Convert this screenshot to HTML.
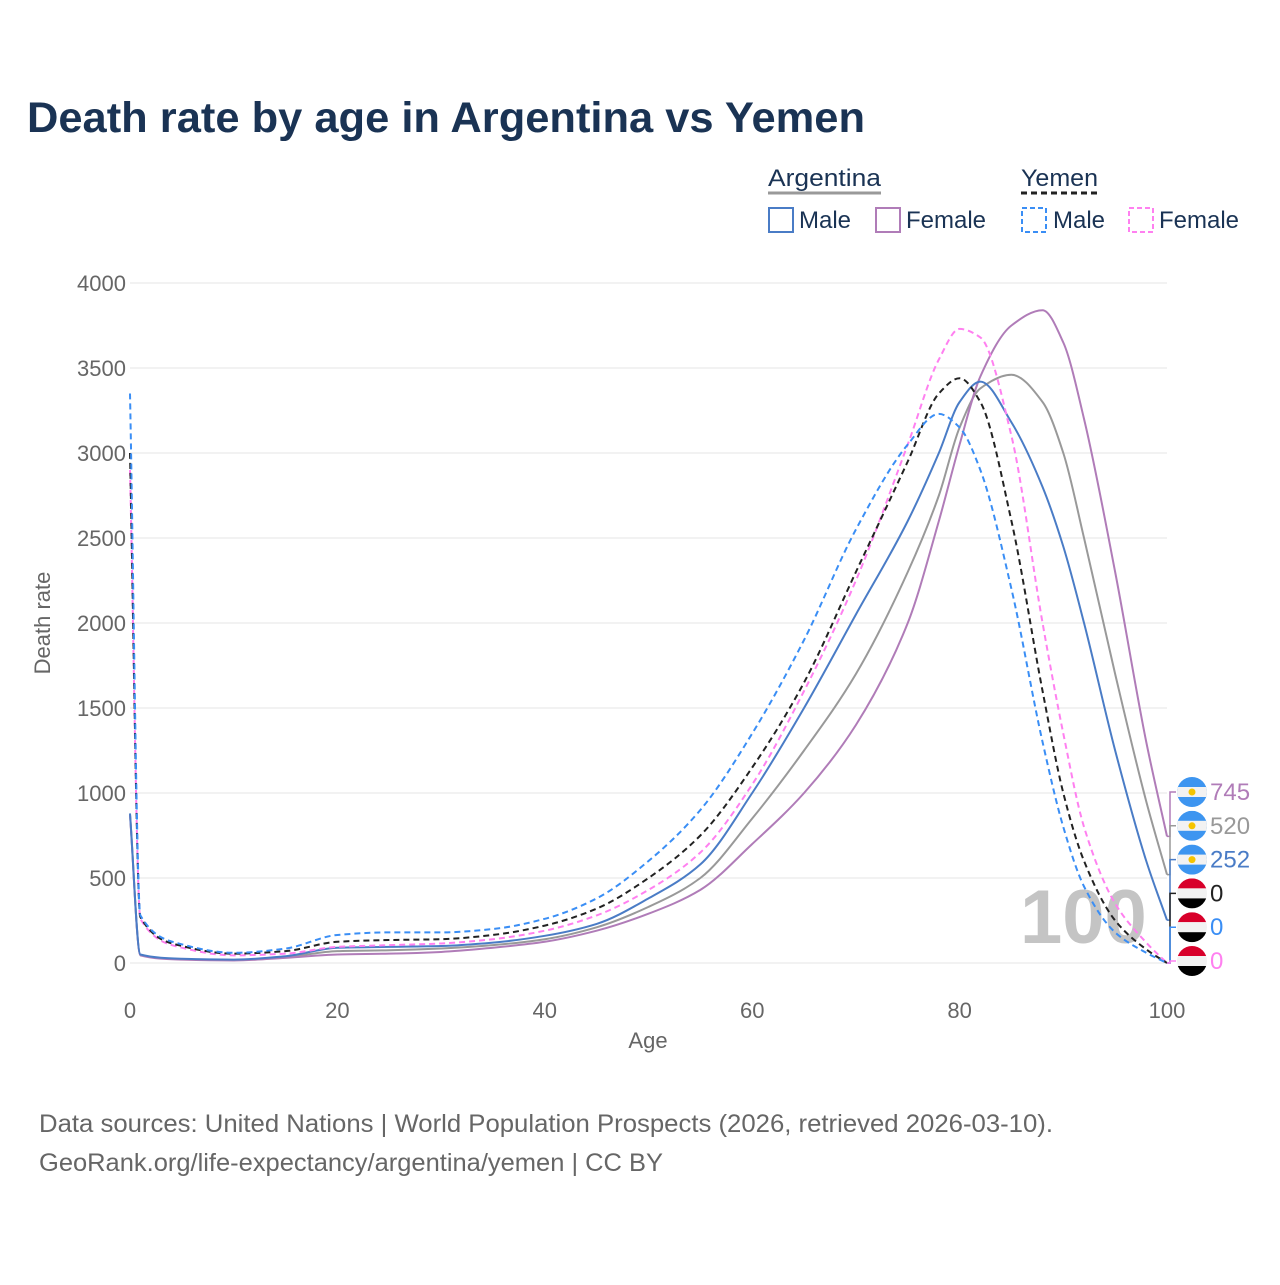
<!DOCTYPE html>
<html><head><meta charset="utf-8">
<style>
body{margin:0;background:#fff;font-family:"Liberation Sans",sans-serif}
svg text{font-family:"Liberation Sans",sans-serif}
</style></head><body>
<svg id="c" width="1280" height="1280" viewBox="0 0 1280 1280">
<text x="27" y="132" font-size="43" font-weight="bold" fill="#1a3354" textLength="838" lengthAdjust="spacingAndGlyphs">Death rate by age in Argentina vs Yemen</text>
<g>
<text x="768" y="186" font-size="24" fill="#1a3354" textLength="113" lengthAdjust="spacingAndGlyphs">Argentina</text>
<line x1="768" y1="193" x2="881" y2="193" stroke="#999" stroke-width="3"/>
<text x="1021" y="186" font-size="24" fill="#1a3354" textLength="77" lengthAdjust="spacingAndGlyphs">Yemen</text>
<line x1="1021" y1="193" x2="1098" y2="193" stroke="#222" stroke-width="3" stroke-dasharray="6,4"/>
<g><rect x="769" y="208" width="24" height="24" fill="none" stroke="#4a7cc6" stroke-width="2"/><text x="799" y="228" font-size="24" fill="#1a3354">Male</text></g>
<g><rect x="876" y="208" width="24" height="24" fill="none" stroke="#b07cb8" stroke-width="2"/><text x="906" y="228" font-size="24" fill="#1a3354">Female</text></g>
<g><rect x="1022" y="208" width="24" height="24" fill="none" stroke="#3a8ef5" stroke-width="2" stroke-dasharray="5,3"/><text x="1053" y="228" font-size="24" fill="#1a3354">Male</text></g>
<g><rect x="1129" y="208" width="24" height="24" fill="none" stroke="#ff80f0" stroke-width="2" stroke-dasharray="5,3"/><text x="1159" y="228" font-size="24" fill="#1a3354">Female</text></g>
</g>
<g id="grid"></g>
<text x="1020" y="943" font-size="76" font-weight="bold" fill="#c4c4c4">100</text>
<g id="series"></g>
<g id="endlabels"></g>
<text x="648" y="1048" font-size="22" fill="#666" text-anchor="middle">Age</text>
<text transform="translate(50,623) rotate(-90)" font-size="22" fill="#666" text-anchor="middle">Death rate</text>
<text x="39" y="1132" font-size="25" fill="#666" textLength="1014" lengthAdjust="spacingAndGlyphs">Data sources: United Nations | World Population Prospects (2026, retrieved 2026-03-10).</text>
<text x="39" y="1171" font-size="25" fill="#666" textLength="624" lengthAdjust="spacingAndGlyphs">GeoRank.org/life-expectancy/argentina/yemen | CC BY</text>
</svg>
<script>
const ages=[0,1,5,10,15,20,25,30,35,40,45,50,55,60,65,70,75,78,80,82,85,88,90,92,95,98,100];
const argMale=[880,50,25,20,40,90,95,100,120,160,230,380,580,1000,1500,2050,2600,3000,3300,3420,3180,2800,2450,2000,1250,600,252];
const argFemale=[870,45,20,15,30,50,55,65,90,125,190,290,430,700,1000,1400,2000,2600,3050,3450,3750,3840,3650,3200,2300,1300,745];
const argTotal=[875,48,22,18,35,70,75,85,105,140,210,330,500,850,1250,1700,2300,2750,3150,3380,3460,3300,3000,2500,1700,950,520];
const yemTotal=[3000,270,100,55,70,125,135,140,165,220,320,500,750,1150,1650,2300,2950,3350,3440,3300,2600,1600,1000,600,250,80,0];
const yemMale=[3350,280,110,60,85,165,180,180,200,260,380,600,900,1350,1900,2550,3050,3230,3150,2900,2200,1300,800,450,180,60,0];
const yemFemale=[2900,260,90,45,55,95,105,115,140,190,280,430,650,1050,1600,2250,3050,3550,3730,3680,3100,2000,1350,800,350,120,0];
const yTicks=[0,500,1000,1500,2000,2500,3000,3500,4000];
const xTicks=[0,20,40,60,80,100];
const endLabels=["745","520","252","0","0","0"];
const NS="http://www.w3.org/2000/svg";
const X=a=>130+a*10.37, Y=v=>963-v*0.17;
function mk(t,at,p){const e=document.createElementNS(NS,t);for(const k in at)e.setAttribute(k,at[k]);p.appendChild(e);return e;}
const grid=document.getElementById('grid');
yTicks.forEach(t=>{
 const l=mk('line',{x1:130,x2:1167,y1:Y(t),y2:Y(t),stroke:'#e6e6e6','stroke-width':1},grid);
 
 
 const tx=mk('text',{x:126,y:Y(t)+8,'font-size':22,fill:'#666','text-anchor':'end'},grid);tx.textContent=t;
 
 
});
xTicks.forEach(t=>{
 const tx=mk('text',{x:X(t),y:1018,'font-size':22,fill:'#666','text-anchor':'middle'},grid);tx.textContent=t;
 
 
});
function monotone(xs,ys){
 const n=xs.length,d=[],m=[];
 for(let i=0;i<n-1;i++)d.push((ys[i+1]-ys[i])/(xs[i+1]-xs[i]));
 m[0]=d[0];m[n-1]=d[n-2];
 for(let i=1;i<n-1;i++){ if(d[i-1]*d[i]<=0){m[i]=0;} else {const w1=2*(xs[i+1]-xs[i])+(xs[i]-xs[i-1]),w2=(xs[i+1]-xs[i])+2*(xs[i]-xs[i-1]);m[i]=(w1+w2)/(w1/d[i-1]+w2/d[i]);} }
 let s=`M${xs[0]},${ys[0]}`;
 for(let i=0;i<n-1;i++){const h=(xs[i+1]-xs[i])/3;s+=`C${xs[i]+h},${ys[i]+m[i]*h} ${xs[i+1]-h},${ys[i+1]-m[i+1]*h} ${xs[i+1]},${ys[i+1]}`;}
 return s;
}
const sg=document.getElementById('series');
const defs=[[argTotal,'#999','','argentina-total-line'],[argFemale,'#b07cb8','','argentina-female-line'],[argMale,'#4a7cc6','','argentina-male-line'],[yemFemale,'#ff80f0','6,4','yemen-female-line'],[yemTotal,'#222','6,4','yemen-total-line'],[yemMale,'#3a8ef5','6,4','yemen-male-line']];
defs.forEach(([vals,col,dash,name])=>{
 const p=mk('path',{d:monotone(ages.map(X),vals.map(Y)),fill:'none',stroke:col,'stroke-width':2,'stroke-dasharray':dash},sg);
 
 
});
const eg=document.getElementById('endlabels');
const ecols=['#b07cb8','#999','#4a7cc6','#222','#3a8ef5','#ff80f0'];
const evals=[argFemale[26],argTotal[26],argMale[26],yemTotal[26],yemMale[26],yemFemale[26]];
endLabels.forEach((lab,i)=>{
 const y=792+i*33.8, isArg=i<3;
 mk('polyline',{points:`1167,${Y(evals[i])} 1170,${Y(evals[i])} 1170,${y} 1176,${y}`,fill:'none',stroke:ecols[i],'stroke-width':1.5},eg);
 const g=mk('g',{},eg);
 
 
 const cid='cl'+i;
 const cp=mk('clipPath',{id:cid},g);mk('circle',{cx:1192,cy:y,r:15},cp);
 const inner=mk('g',{'clip-path':`url(#${cid})`},g);
 if(isArg){mk('rect',{x:1177,y:y-15,width:30,height:30,fill:'#3d95f0'},inner);mk('rect',{x:1177,y:y-5,width:30,height:10,fill:'#f2f2f2'},inner);mk('circle',{cx:1192,cy:y,r:3.5,fill:'#f5c400'},inner);}
 else{mk('rect',{x:1177,y:y-15,width:30,height:10,fill:'#d8002a'},inner);mk('rect',{x:1177,y:y-5,width:30,height:10,fill:'#f2f2f2'},inner);mk('rect',{x:1177,y:y+5,width:30,height:10,fill:'#000'},inner);}
 const t=mk('text',{x:1210,y:y+8,'font-size':24,fill:ecols[i]},eg);t.textContent=lab;
 
 
});
</script>
</body></html>
